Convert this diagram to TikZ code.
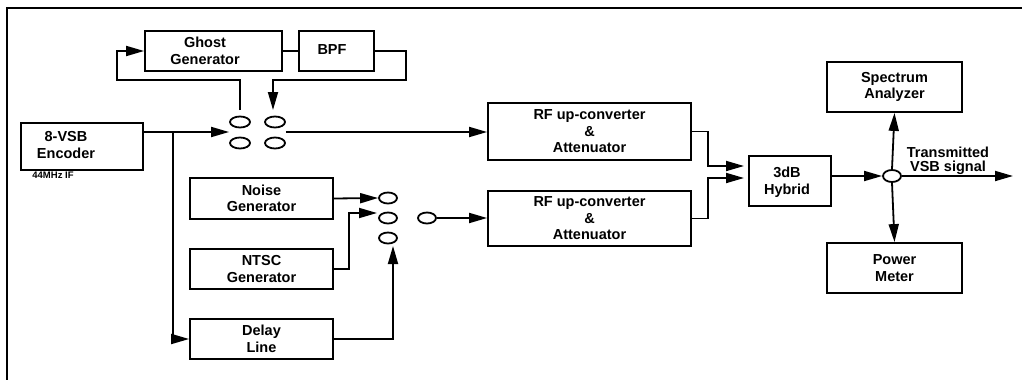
\documentclass[tikz,border=0pt]{standalone}
\usepackage{fontspec}
\setmainfont{Liberation Sans}
\usetikzlibrary{arrows.meta,shapes.geometric}
\begin{document}
\begin{tikzpicture}[x=1pt,y=-1pt,
 box/.style={draw,line width=1.8pt,inner sep=0pt,align=center,font=\bfseries\fontsize{14.5}{16.5}\selectfont},
 lbl/.style={align=center,inner sep=0pt,font=\bfseries\fontsize{14.5}{16.5}\selectfont},
 ov/.style={draw,ellipse,line width=1.8pt,minimum width=20pt,minimum height=11pt,inner sep=0pt},
 ovs/.style={ov,minimum width=18pt},
 wire/.style={line width=1.8pt},
 arr/.style={wire,-{Triangle[length=18pt,width=10pt]}}]
\useasboundingbox (0,0) rectangle (1022,380);
\draw[line width=1.8pt] (1022,8) -- (7,8) -- (7,380);

% boxes
\node[box,minimum width=137pt,minimum height=40pt] (ghost) at (213.5,51) {};
\node[lbl] (ghosttxt) at (205,51) {Ghost\\Generator};
\node[box,minimum width=75pt,minimum height=40pt] (bpf) at (336.5,51) {};
\node[lbl] (bpftxt) at (332,50) {BPF};
\node[box,minimum width=122pt,minimum height=47pt] (enc) at (82,146.5) {};
\node[lbl] (enctxt) at (66,145) {8-VSB\\Encoder};
\node[inner sep=0pt,font=\bfseries\fontsize{9.5}{11}\selectfont] (ifl) at (53,175) {44MHz IF};
\node[box,minimum width=143pt,minimum height=41pt] (noise) at (261.5,198.5) {Noise\\Generator};
\node[box,minimum width=143pt,minimum height=40pt] (ntsc) at (261.5,269) {NTSC\\Generator};
\node[box,minimum width=143pt,minimum height=40pt] (delay) at (261.5,339) {Delay\\Line};
\node[box,minimum width=203pt,minimum height=57pt] (rf1) at (589.5,131.5) {RF up-converter\\\&\\Attenuator};
\node[box,minimum width=203pt,minimum height=55pt] (rf2) at (589.5,218.5) {RF up-converter\\\&\\Attenuator};
\node[box,minimum width=82pt,minimum height=50pt] (hyb) at (790,181) {};
\node[lbl] (hybtxt) at (787,182) {3dB\\Hybrid};
\node[box,minimum width=135pt,minimum height=50pt] (sa) at (894.5,87) {Spectrum\\Analyzer};
\node[box,minimum width=135pt,minimum height=50pt] (pm) at (894.5,268) {Power\\Meter};

% ovals
\node[ov] (o1) at (240,122) {};
\node[ov] (o2) at (275,122) {};
\node[ov] (o3) at (240,143) {};
\node[ov] (o4) at (275,143) {};
\node[ovs] (o5) at (388,198) {};
\node[ovs] (o6) at (388,218) {};
\node[ovs] (o7) at (388,238) {};
\node[ovs] (o8) at (427,218) {};
\node[ovs,minimum height=12pt] (o9) at (892,176) {};

% coordinates
\coordinate (j1) at (173,132);
\coordinate (g1) at (240,110);
\coordinate (g2) at (240,80);
\coordinate (g3) at (117,80);
\coordinate (b1) at (406,51);
\coordinate (b2) at (406,80);
\coordinate (b3) at (273,80);
\coordinate (b4) at (273,110);
\coordinate (n1) at (349,213);
\coordinate (n2) at (377,213);
\coordinate (d1) at (393,246);
\coordinate (r1) at (708,166);
\coordinate (r2) at (708,178);
\coordinate (h1) at (744,166);
\coordinate (h2) at (744,178);
\coordinate (out) at (1013,176);
\coordinate (tl) at (948,161);

% connectors
\draw[arr] (enc.east|-j1) -- (o1.west|-j1);
\draw[arr] (j1) |- (delay.west);
\draw[arr] (o2.east|-j1) -- (rf1.west|-j1);
\draw[arr] (g1) -- (g2) -- (g3) |- (ghost.west);
\draw[wire] (ghost.east) -- (bpf.west);
\draw[arr] (bpf.east) -- (b1) -- (b2) -- (b3) -- (b4);
\draw[arr] (noise.east) -- (o5.west);
\draw[arr] (ntsc.east) -| (n1) -- (n2);
\draw[arr] (delay.east) -| (d1);
\draw[arr] (o8.east) -- (rf2.west|-o8);
\draw[arr] (rf1.east) -| (r1) -- (h1);
\draw[arr] (rf2.east) -| (r2) -- (h2);
\draw[arr] (hyb.east|-o9) -- (o9.west);
\draw[arr] (o9.north) -- (sa.south);
\draw[arr] (o9.south) -- (pm.north);
\draw[arr] (o9.east) -- (out);
\node[lbl,font=\bfseries\fontsize{14.5}{14}\selectfont] (outl) at (tl) {Transmitted\\VSB signal};
\end{tikzpicture}
\end{document}
